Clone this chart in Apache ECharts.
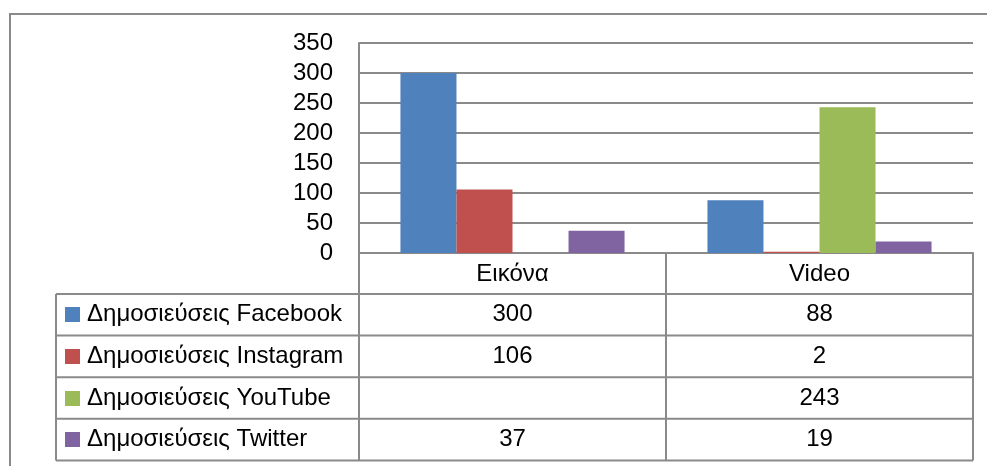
<!DOCTYPE html>
<html><head><meta charset="utf-8">
<script src="https://cdn.jsdelivr.net/npm/echarts@6/dist/echarts.min.js"></script>
<style>html,body{margin:0;padding:0;background:#fff}#c{width:987px;height:466px}</style>
</head><body><div id="c"></div>
<script>
const categories = ['Εικόνα', 'Video'];
const seriesNames = ['Δημοσιεύσεις Facebook', 'Δημοσιεύσεις Instagram', 'Δημοσιεύσεις YouTube', 'Δημοσιεύσεις Twitter'];
const facebook = [300, 88];
const instagram = [106, 2];
const youtube = [null, 243];
const twitter = [37, 19];
const yMin = 0, yMax = 350, yStep = 50;

const seriesValues = [facebook, instagram, youtube, twitter];
const colors = ['#4F81BD', '#C0504D', '#9BBB59', '#8064A2'];
const FONT = 'Liberation Sans';
const FS = 24;
const LINE = '#8a8a8a';

const chart = echarts.init(document.getElementById('c'));
const option = {
  animation: false,
  backgroundColor: '#fff',
  grid: { left: 359, right: 14, top: 43, bottom: 213 },
  xAxis: {
    type: 'category', data: categories,
    axisLine: { show: true, lineStyle: { color: LINE, width: 2 } },
    axisTick: { show: false },
    axisLabel: { show: true, margin: 21, verticalAlign: 'middle', color: '#000', fontFamily: FONT, fontSize: FS }
  },
  yAxis: {
    type: 'value', min: yMin, max: yMax, interval: yStep,
    axisLine: { show: true, lineStyle: { color: LINE, width: 2 } },
    axisTick: { show: false },
    splitLine: { lineStyle: { color: LINE, width: 2 } },
    axisLabel: { margin: 26, color: '#000', fontFamily: FONT, fontSize: FS }
  },
  series: seriesNames.map((n, i) => ({
    name: n, type: 'bar', data: seriesValues[i],
    itemStyle: { color: colors[i] },
    barGap: 0, barCategoryGap: '27%'
  }))
};
chart.setOption(option);

// Data table drawn under the plot, positioned from the axes
const x0 = chart.convertToPixel({ yAxisIndex: 0 }, 0);
const axisX = 359, leftX = 56, rightX = 973;
const headerBottom = 294, rowH = 41.6;
const colCenters = categories.map(c => chart.convertToPixel({ xAxisIndex: 0 }, c));
const colBound = (colCenters[0] + colCenters[1]) / 2;
const els = [];
const line = (x1, y1, x2, y2) => els.push({ type: 'line', shape: { x1, y1, x2, y2 }, style: { stroke: LINE, lineWidth: 2 }, z: 10 });
// outer chart frame
els.push({ type: 'rect', shape: { x: 10, y: 14, width: 1000, height: 500 }, style: { fill: 'none', stroke: LINE, lineWidth: 2 }, z: 0 });
line(axisX, x0, axisX, headerBottom + rowH * 4);
line(colBound, x0, colBound, headerBottom + rowH * 4);
line(rightX, x0, rightX, headerBottom + rowH * 4);
line(leftX, headerBottom, leftX, headerBottom + rowH * 4);
for (let r = 0; r <= 4; r++) line(leftX, headerBottom + rowH * r, rightX, headerBottom + rowH * r);
seriesNames.forEach((n, i) => {
  const cy = headerBottom + rowH * (i + 0.5);
  els.push({ type: 'rect', shape: { x: 65, y: Math.round(cy - 7.5), width: 15, height: 15 }, style: { fill: colors[i] }, z: 11 });
  els.push({ type: 'text', x: 87, y: cy, style: { text: n, font: FS + 'px "' + FONT + '"', fill: '#000', textAlign: 'left', textVerticalAlign: 'middle' }, z: 11 });
  seriesValues[i].forEach((v, j) => {
    if (v === null || v === undefined) return;
    els.push({ type: 'text', x: colCenters[j], y: cy, style: { text: String(v), font: FS + 'px "' + FONT + '"', fill: '#000', textAlign: 'center', textVerticalAlign: 'middle' }, z: 11 });
  });
});
chart.setOption({ graphic: { elements: els } });
</script>
</body></html>
